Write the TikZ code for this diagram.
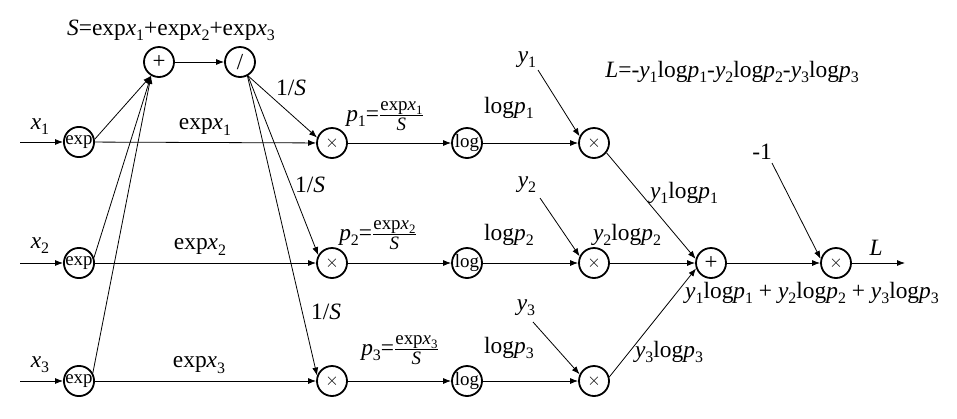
\documentclass[tikz,border=0pt]{standalone}
\usepackage{fontspec}
\setmainfont{Liberation Serif}
\usetikzlibrary{arrows.meta}
\newcommand{\vs}[2]{\textit{#1}\raisebox{-0.22em}{\scalebox{0.68}{#2}}}
\newcommand{\pfrac}[1]{\vs{p}{#1}=$\frac{\mbox{\fontsize{19}{19}\selectfont exp\vs{x}{#1}}}{\mbox{\fontsize{19}{19}\selectfont\textit{S}}}$}
\begin{document}
\begin{tikzpicture}[x=1bp,y=-1bp,
  op/.style={draw,circle,minimum size=30bp,inner sep=0pt,line width=1.8bp,font=\fontsize{19}{19}\selectfont},
  lab/.style={inner sep=0pt,font=\fontsize{23.5}{26}\selectfont},
  con/.style={line width=0.8bp,-{Latex[length=8bp,width=6bp]}}]
\useasboundingbox (0,0) rectangle (957,418);
% operator nodes
\node[op] (e1) at (79,142) {exp};
\node[op] (e2) at (79,263) {exp};
\node[op] (e3) at (79,381) {exp};
\node[op,font=\fontsize{23}{23}\selectfont] (sp) at (159,62) {+};
\node[op,font=\fontsize{23}{23}\selectfont] (dv) at (240,62) {/};
\node[op] (m1) at (332,143) {$\times$};
\node[op] (m2) at (332,263) {$\times$};
\node[op] (m3) at (332,381) {$\times$};
\node[op] (l1) at (467,143) {log};
\node[op] (l2) at (467,263) {log};
\node[op] (l3) at (467,381) {log};
\node[op] (n1) at (594,143) {$\times$};
\node[op] (n2) at (594,263) {$\times$};
\node[op] (n3) at (594,381) {$\times$};
\node[op,font=\fontsize{23}{23}\selectfont] (sm) at (711,263) {+};
\node[op] (fm) at (836,263) {$\times$};
% free ends
\coordinate (i1) at (20,142);
\coordinate (i2) at (20,263);
\coordinate (i3) at (20,381);
\coordinate (ya) at (538,70);
\coordinate (yb) at (540,198);
\coordinate (yc) at (533,322);
\coordinate (mo) at (772,163);
\coordinate (out) at (905,263);
% connectors
\draw[con] (i1) -- (e1);
\draw[con] (i2) -- (e2);
\draw[con] (i3) -- (e3);
\draw[con] (e1.10) -- (sp.240);
\draw[con] (e2.20) -- (sp.240);
\draw[con] (e3.30) -- (sp.240);
\draw[con] (sp) -- (dv);
\draw[con] (dv.-60) -- (m1.160);
\draw[con] (dv.-60) -- (m2.150);
\draw[con] (dv.-62) -- (m3.160);
\draw[con] (e1) -- (m1);
\draw[con] (e2) -- (m2);
\draw[con] (e3) -- (m3);
\draw[con] (m1) -- (l1);
\draw[con] (m2) -- (l2);
\draw[con] (m3) -- (l3);
\draw[con] (l1) -- (n1);
\draw[con] (l2) -- (n2);
\draw[con] (l3) -- (n3);
\draw[con] (ya) -- (n1.155);
\draw[con] (yb) -- (n2.155);
\draw[con] (yc) -- (n3.155);
\draw[con] (n1.-38) -- (sm.165);
\draw[con] (n2) -- (sm);
\draw[con] (n3.15) -- (sm.200);
\draw[con] (sm) -- (fm);
\draw[con] (mo) -- (fm.165);
\draw[con] (fm) -- (out);
% labels
\node[lab] (tS) at (171,30) {\textit{S}=exp\vs{x}{1}+exp\vs{x}{2}+exp\vs{x}{3}};
\node[lab] (tx1) at (40,127) {\vs{x}{1}};
\node[lab] (tx2) at (40,246) {\vs{x}{2}};
\node[lab] (tx3) at (40,365) {\vs{x}{3}};
\node[lab] (te1) at (205,127) {exp\vs{x}{1}};
\node[lab] (te2) at (200,247) {exp\vs{x}{2}};
\node[lab] (te3) at (199,365) {exp\vs{x}{3}};
\node[lab] (ts1) at (291,88) {1/\textit{S}};
\node[lab] (ts2) at (310,185) {1/\textit{S}};
\node[lab] (ts3) at (326,312) {1/\textit{S}};
\node[lab] (tp1) at (385,116) {\pfrac{1}};
\node[lab] (tp2) at (378,235) {\pfrac{2}};
\node[lab] (tp3) at (400,350) {\pfrac{3}};
\node[lab] (tl1) at (509,108) {log\vs{p}{1}};
\node[lab] (tl2) at (509,235) {log\vs{p}{2}};
\node[lab] (tl3) at (509,348) {log\vs{p}{3}};
\node[lab] (ty1) at (527,60) {\vs{y}{1}};
\node[lab] (ty2) at (527,185) {\vs{y}{2}};
\node[lab] (ty3) at (526,308) {\vs{y}{3}};
\node[lab] (tL) at (732,72) {\textit{L}=-\vs{y}{1}log\vs{p}{1}-\vs{y}{2}log\vs{p}{2}-\vs{y}{3}log\vs{p}{3}};
\node[lab] (tm) at (762,152) {-1};
\node[lab] (tq1) at (684,193) {\vs{y}{1}log\vs{p}{1}};
\node[lab] (tq2) at (627,235) {\vs{y}{2}log\vs{p}{2}};
\node[lab] (tq3) at (669,352) {\vs{y}{3}log\vs{p}{3}};
\node[lab] (tsum) at (812,293) {\vs{y}{1}log\vs{p}{1} + \vs{y}{2}log\vs{p}{2} + \vs{y}{3}log\vs{p}{3}};
\node[lab] (tLo) at (876,248) {\textit{L}};
\end{tikzpicture}
\end{document}
